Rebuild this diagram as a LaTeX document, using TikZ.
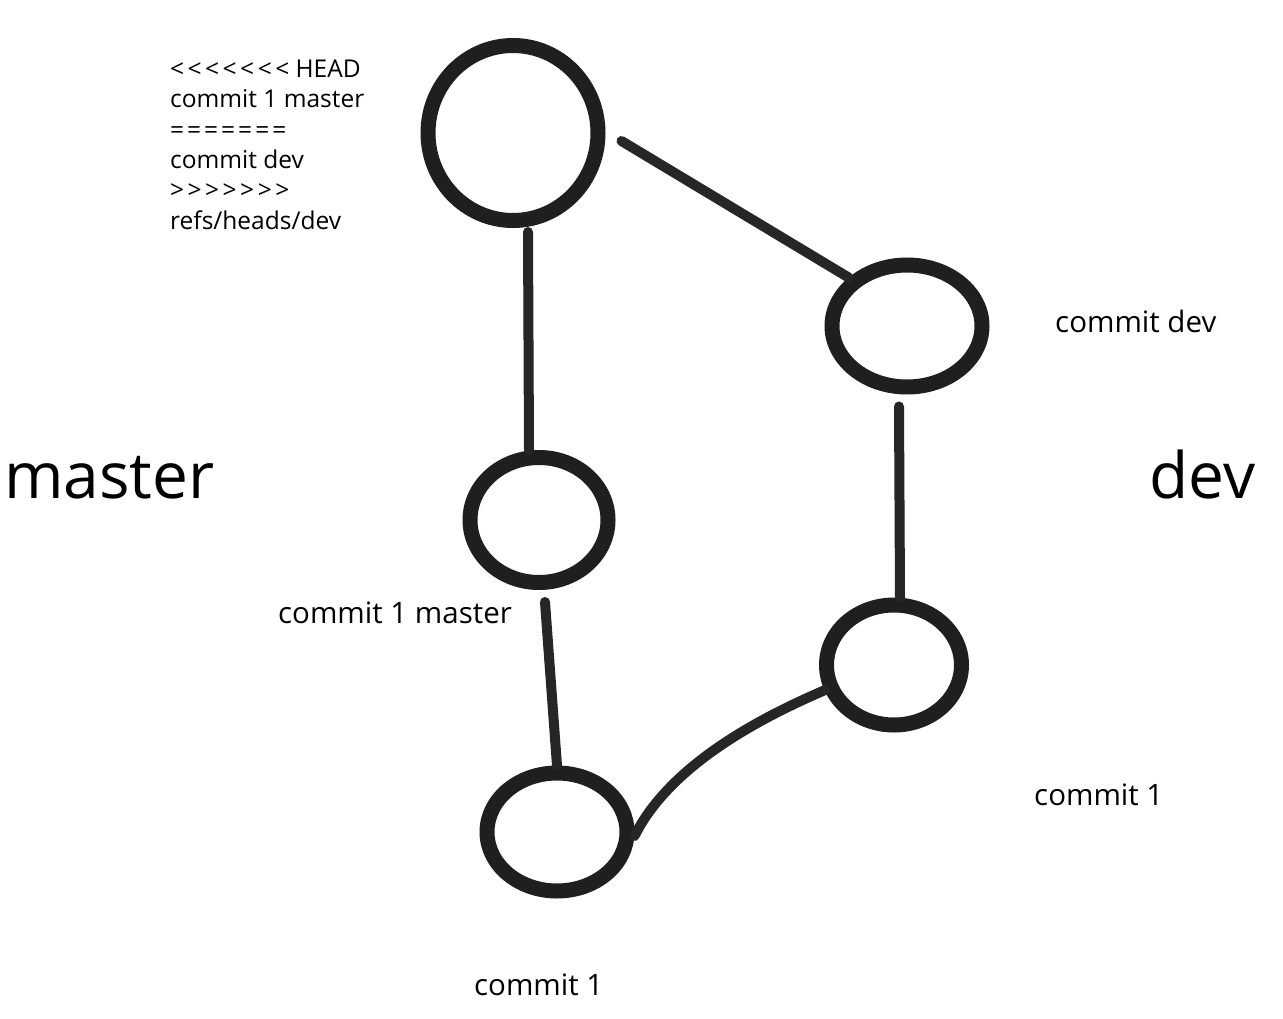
\documentclass[tikz,border=0pt]{standalone}
\usepackage{fontspec}
\setmainfont{Open Sans}[Ligatures=ResetAll]
\usetikzlibrary{shapes.geometric}
\newcommand{\lt}{<\kern3.5pt}
\newcommand{\gt}{>\kern3.5pt}
\newcommand{\eqs}{=\kern3pt}
\begin{document}
\begin{tikzpicture}[x=1pt,y=-1pt,
  commitnode/.style={ellipse,draw=black!88,line width=15pt,inner sep=0pt},
  link/.style={draw=black!85,line width=10pt,line cap=round},
  lbl/.style={anchor=base west,inner sep=0pt,font=\fontsize{29.5}{34}\selectfont},
  small/.style={anchor=base west,inner sep=0pt,align=left,font=\fontsize{24.5}{30.5}\selectfont},
  big/.style={anchor=base west,inner sep=0pt,font=\fontsize{64}{70}\selectfont}]
\useasboundingbox[fill=white] (0,0) rectangle (1283,1019);
\node[commitnode,minimum width=170pt,minimum height=175pt] (top) at (513,133) {};
\node[commitnode,minimum width=150pt,minimum height=122pt] (devc) at (907,326) {};
\node[commitnode,minimum width=138pt,minimum height=125pt] (m1) at (539,520) {};
\node[commitnode,minimum width=135pt,minimum height=120pt] (d1) at (894,665) {};
\node[commitnode,minimum width=140pt,minimum height=118pt] (base) at (557,832) {};
\draw[link] (top.south) ++(15,4) coordinate (t1) -- ([xshift=-10pt]m1.north);
\draw[link] (top.east) ++(16,8) -- (devc.north west);
\draw[link] (devc.south) ++(-8,12) -- ([xshift=6pt]d1.north);
\draw[link] (m1.south) ++(6,12) -- (base.north);
\draw[link] (d1.200) .. controls (760,718) and (670,765) .. ([yshift=-4pt]base.east);
\node[small] (conf) at (170,229.5) {\lt\lt\lt\lt\lt\lt<\ HEAD\\commit 1 master\\\eqs\eqs\eqs\eqs\eqs\eqs=\\commit dev\\\gt\gt\gt\gt\gt\gt>\\refs/heads/dev};
\node[lbl] (tdev) at (1055,332) {commit dev};
\node[lbl] (tm1) at (278,623) {commit 1 master};
\node[lbl] (td1) at (1034,805) {commit 1};
\node[lbl] (tbase) at (474,995) {commit 1};
\node[big] (master) at (4,498) {master};
\node[big] (dev) at (1149,498) {dev};
\end{tikzpicture}
\end{document}
